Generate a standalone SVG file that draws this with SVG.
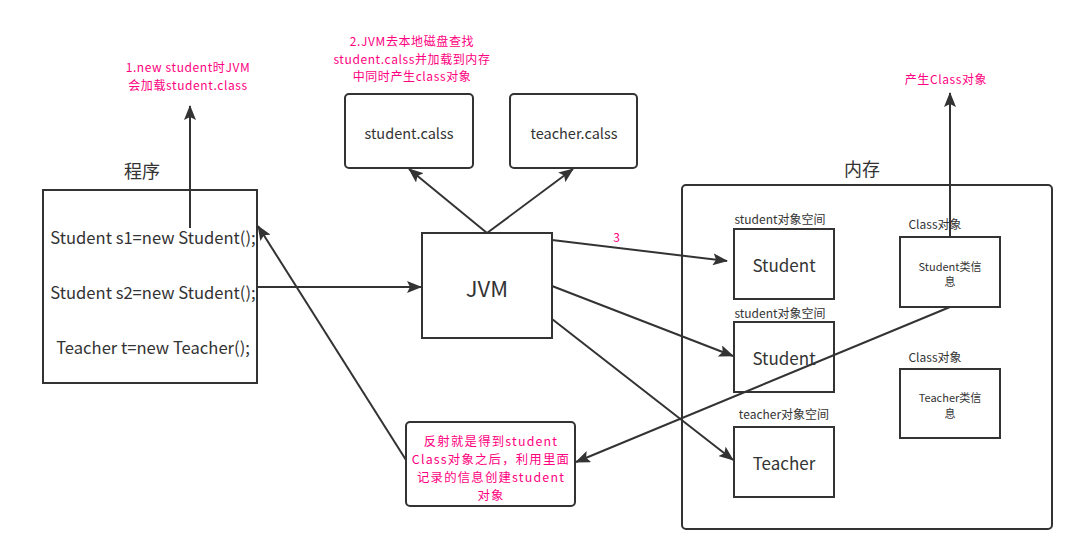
<svg xmlns="http://www.w3.org/2000/svg" width="1077" height="554" viewBox="0 0 1077 554">
<style>
.box{fill:#fff;stroke:#333;stroke-width:2}
.t{font-family:"Noto Sans CJK SC","Microsoft YaHei",sans-serif;fill:#333;text-anchor:middle}
.p{font-family:"Noto Sans CJK SC","Microsoft YaHei",sans-serif;fill:#FF0080;text-anchor:middle;font-size:12px;letter-spacing:0.6px}
.r{font-size:12.4px;letter-spacing:1.2px}
.c{fill:none;stroke:#333;stroke-width:2}
</style>
<defs>
<marker id="a" markerUnits="userSpaceOnUse" markerWidth="16" markerHeight="12" refX="14" refY="6" orient="auto">
<path d="M0,0 L15,6 L0,12 L3,6 z" fill="#333"/>
</marker>
</defs>
<rect width="1077" height="554" fill="#fff"/>

<g id="memory">
<rect class="box" x="682" y="185" width="370" height="344" rx="4"/>
<text class="t" x="862" y="176" font-size="18">内存</text>
</g>

<g id="program">
<rect class="box" x="43" y="190" width="214" height="193"/>
<text class="t" x="142" y="178" font-size="18">程序</text>
<text class="t" x="153" y="244" font-size="16.6">Student s1=new Student();</text>
<text class="t" x="153" y="299" font-size="16.6">Student s2=new Student();</text>
<text class="t" x="153" y="354" font-size="16.6">Teacher t=new Teacher();</text>
</g>

<g id="note1">
<text class="p" x="188" y="72">1.new student时JVM</text>
<text class="p" x="188" y="89.5">会加载student.class</text>
</g>

<g id="note2">
<text class="p" x="412" y="46">2.JVM去本地磁盘查找</text>
<text class="p" x="412" y="63.5">student.calss并加载到内存</text>
<text class="p" x="412" y="81">中同时产生class对象</text>
</g>

<g id="studentClassFile">
<rect class="box" x="345" y="94" width="128" height="74" rx="4"/>
<text class="t" x="409" y="139" font-size="14.5">student.calss</text>
</g>

<g id="teacherClassFile">
<rect class="box" x="510" y="94" width="127" height="74" rx="4"/>
<text class="t" x="574" y="139" font-size="14.5">teacher.calss</text>
</g>

<g id="jvm">
<rect class="box" x="422" y="233" width="130" height="105"/>
<text class="t" x="487" y="297" font-size="22">JVM</text>
</g>

<g id="student1">
<text class="t" x="780" y="224" font-size="12">student对象空间</text>
<rect class="box" x="734" y="229" width="100" height="70"/>
<text class="t" x="784" y="272" font-size="17">Student</text>
</g>

<g id="student2">
<text class="t" x="780" y="318" font-size="12">student对象空间</text>
<rect class="box" x="734" y="322" width="100" height="70"/>
<text class="t" x="784" y="365" font-size="17">Student</text>
</g>

<g id="teacher">
<text class="t" x="784" y="419" font-size="12">teacher对象空间</text>
<rect class="box" x="734" y="427" width="100" height="70"/>
<text class="t" x="784" y="470" font-size="17">Teacher</text>
</g>

<g id="classObj1">
<text class="t" x="935" y="229" font-size="12">Class对象</text>
<rect class="box" x="900" y="237" width="100" height="70"/>
<text class="t" x="950" y="271" font-size="11">Student类信</text>
<text class="t" x="950" y="286" font-size="11">息</text>
</g>

<g id="classObj2">
<text class="t" x="935" y="362" font-size="12">Class对象</text>
<rect class="box" x="900" y="369" width="100" height="69"/>
<text class="t" x="950" y="402" font-size="11">Teacher类信</text>
<text class="t" x="950" y="418" font-size="11">息</text>
</g>

<g id="note3">
<text class="p" x="946" y="84">产生Class对象</text>
</g>

<g id="reflection">
<rect class="box" x="406" y="422" width="169" height="84" rx="4"/>
<text class="p r" x="491" y="446">反射就是得到student</text>
<text class="p r" x="491" y="464">Class对象之后，利用里面</text>
<text class="p r" x="491" y="482">记录的信息创建student</text>
<text class="p r" x="491" y="500">对象</text>
</g>

<g id="connectors">
<line class="c" x1="190" y1="228" x2="190" y2="106" marker-end="url(#a)"/>
<line class="c" x1="257" y1="287" x2="421" y2="287" marker-end="url(#a)"/>
<line class="c" x1="487" y1="233" x2="409" y2="169" marker-end="url(#a)"/>
<line class="c" x1="487" y1="233" x2="573" y2="169" marker-end="url(#a)"/>
<line class="c" x1="552" y1="240" x2="727" y2="261" marker-end="url(#a)"/>
<text class="p" x="617" y="242">3</text>
<line class="c" x1="552" y1="286" x2="733" y2="356" marker-end="url(#a)"/>
<line class="c" x1="552" y1="319" x2="733" y2="460" marker-end="url(#a)"/>
<line class="c" x1="950" y1="237" x2="950" y2="93" marker-end="url(#a)"/>
<line class="c" x1="950" y1="307" x2="576" y2="462" marker-end="url(#a)"/>
<line class="c" x1="406" y1="460" x2="258" y2="226" marker-end="url(#a)"/>
</g>
</svg>
